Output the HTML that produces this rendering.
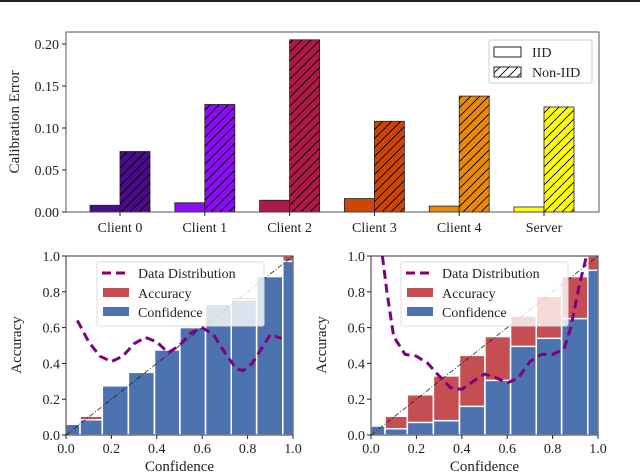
<!DOCTYPE html>
<html><head><meta charset="utf-8"><style>
body{margin:0;background:#fff}
svg{display:block;font-family:"Liberation Serif",serif}
</style></head><body>
<svg id="s" width="640" height="473" xmlns="http://www.w3.org/2000/svg">
<defs>
<pattern id="hatch" patternUnits="userSpaceOnUse" width="9" height="9">
<path d="M-2,2 L2,-2 M0,9 L9,0 M7,11 L11,7" stroke="#000" stroke-width="0.9"/>
</pattern>
</defs>
<rect x="0" y="0" width="640" height="2" fill="#222"/>
</svg>
<script>
const clients=["Client 0","Client 1","Client 2","Client 3","Client 4","Server"];
const iidVals=[0.008,0.011,0.014,0.016,0.007,0.006];
const nonIidVals=[0.072,0.128,0.205,0.108,0.138,0.125];
const clientColors=["#4b0c8c","#8a0cf2","#ad1a45","#cc4704","#e8890a","#ffff0a"];
const topTicks=["0.00","0.05","0.10","0.15","0.20"];
const binEdges=[0,0.062,0.16,0.275,0.39,0.502,0.615,0.728,0.84,0.955,1];
const leftConf=[0.06,0.085,0.275,0.35,0.475,0.6,0.73,0.755,0.885,0.97];
const leftAcc=[0.06,0.105,0.275,0.35,0.475,0.6,0.73,0.77,0.885,1.0];
const rightConf=[0.05,0.035,0.07,0.08,0.16,0.305,0.495,0.54,0.65,0.92];
const rightAcc=[0.05,0.105,0.225,0.33,0.445,0.55,0.665,0.775,0.885,1.0];
const leftDistX=[0.05,0.1,0.15,0.2,0.25,0.3,0.35,0.4,0.45,0.5,0.55,0.6,0.65,0.7,0.75,0.78,0.82,0.87,0.9,0.95];
const leftDistY=[0.64,0.52,0.44,0.41,0.44,0.51,0.545,0.52,0.46,0.5,0.57,0.6,0.56,0.46,0.37,0.36,0.4,0.5,0.56,0.54];
const rightDistX=[0.05,0.07,0.1,0.15,0.2,0.25,0.3,0.35,0.4,0.45,0.5,0.55,0.6,0.65,0.7,0.75,0.8,0.85,0.88,0.92,0.95];
const rightDistY=[1.0,0.8,0.55,0.45,0.44,0.4,0.33,0.265,0.255,0.3,0.34,0.32,0.29,0.32,0.41,0.45,0.45,0.48,0.6,0.85,1.0];
const unitTicks=["0.0","0.2","0.4","0.6","0.8","1.0"];

const S=document.getElementById('s');const NS="http://www.w3.org/2000/svg";
function mk(t,a,p){const e=document.createElementNS(NS,t);for(const k in a)e.setAttribute(k,a[k]);(p||S).appendChild(e);return e;}
function txt(x,y,s,size,anchor,p){const e=mk('text',{x:x,y:y,'font-size':size,'text-anchor':anchor||'middle',fill:'#222'},p);e.textContent=s;return e;}

// ---- top chart
const T={x0:66,x1:599,y0:212,y1:32};
const ty=v=>T.y0-v/0.05*42;
const gx=i=>120+i*84.8;
const g1=mk('g',{});
topTicks.forEach(t=>{const y=ty(parseFloat(t));mk('line',{x1:T.x0-4,x2:T.x0,y1:y,y2:y,stroke:'#222'},g1);const l=txt(T.x0-7,y+5,t,14,'end',g1);});
clients.forEach((c,i)=>{
 const cx=gx(i),w=30;
 const b1=mk('rect',{x:cx-w,y:ty(iidVals[i]),width:w,height:T.y0-ty(iidVals[i]),fill:clientColors[i],stroke:'#222','stroke-width':0.8},g1);
 
 const b2=mk('rect',{x:cx,y:ty(nonIidVals[i]),width:w,height:T.y0-ty(nonIidVals[i]),fill:clientColors[i],stroke:'#222','stroke-width':0.8},g1);
 
 mk('rect',{x:cx,y:ty(nonIidVals[i]),width:w,height:T.y0-ty(nonIidVals[i]),fill:'url(#hatch)'},g1);
 mk('line',{x1:cx,x2:cx,y1:T.y0,y2:T.y0+4,stroke:'#222'},g1);
 const l=txt(cx,T.y0+20,c,14,'middle',g1);
});
mk('rect',{x:T.x0,y:T.y1,width:T.x1-T.x0,height:T.y0-T.y1,fill:'none',stroke:'#444','stroke-width':0.9},g1);
const yl=txt(0,0,'Calibration Error',15,'middle',g1);yl.setAttribute('transform','translate(19,122) rotate(-90)');

const lg=mk('g',{},g1);
mk('rect',{x:489,y:40,width:103,height:43,fill:'#fff',stroke:'#ccc',rx:2},lg);
mk('rect',{x:494,y:47,width:27,height:10,fill:'#fff',stroke:'#222'},lg);
mk('rect',{x:494,y:67,width:27,height:10,fill:'url(#hatch)',stroke:'#222'},lg);
txt(532,57,'IID',14,'start',lg);txt(532,77,'Non-IID',14,'start',lg);

// ---- reliability diagrams
function rel(X0,conf,acc,dx,dy,name,legX){
 const X1=X0+227,Y0=435,Y1=256;
 const sx=v=>X0+v*(X1-X0),sy=v=>Y0-v*(Y0-Y1);
 const g=mk('g',{});
 const cp='c'+name;const c=mk('clipPath',{id:cp},g);mk('rect',{x:X0,y:Y1,width:X1-X0,height:Y0-Y1},c);
 const pg=mk('g',{'clip-path':'url(#'+cp+')'},g);
 conf.forEach((v,i)=>{
  const a=binEdges[i],b=binEdges[i+1];
  const r=mk('rect',{x:sx(a),y:sy(acc[i]),width:sx(b)-sx(a),height:Y0-sy(acc[i]),fill:'#c44e52',stroke:'#fff','stroke-width':1.5},pg);
  
  const q=mk('rect',{x:sx(a),y:sy(v),width:sx(b)-sx(a),height:Y0-sy(v),fill:'#4c72b0',stroke:'#fff','stroke-width':1.5},pg);
  
 });
 mk('line',{x1:sx(0),y1:sy(0),x2:sx(1),y2:sy(1),stroke:'#222','stroke-width':0.8,'stroke-dasharray':'5,2,1,2'},pg);
 const d=dx.map((x,i)=>(i?'L':'M')+sx(x).toFixed(1)+','+sy(dy[i]).toFixed(1)).join(' ');
 const p=mk('path',{d:d,fill:'none',stroke:'#800080','stroke-width':3,'stroke-dasharray':'9,5','stroke-linejoin':'round'},pg);
 
 mk('rect',{x:X0,y:Y1,width:X1-X0,height:Y0-Y1,fill:'none',stroke:'#333','stroke-width':1},g);
 unitTicks.forEach(t=>{const v=parseFloat(t);
  mk('line',{x1:sx(v),x2:sx(v),y1:Y0,y2:Y0+4,stroke:'#222'},g);
  const a=txt(sx(v),Y0+18,t,14,'middle',g);
  mk('line',{x1:X0-4,x2:X0,y1:sy(v),y2:sy(v),stroke:'#222'},g);
  const b=txt(X0-6,sy(v)+5,t,14,'end',g);
 });
 const xt=txt((X0+X1)/2,Y0+36,'Confidence',15,'middle',g);
 const yt=txt(0,0,'Accuracy',15,'middle',g);yt.setAttribute('transform','translate('+(X0-45)+',345) rotate(-90)');
 
 const L=mk('g',{},g);
 mk('rect',{x:legX,y:262,width:167,height:64,fill:'#fff','fill-opacity':0.8,stroke:'#ddd',rx:2},L);
 mk('line',{x1:legX+5,x2:legX+33,y1:273,y2:273,stroke:'#800080','stroke-width':3,'stroke-dasharray':'9,5'},L);
 mk('rect',{x:legX+6,y:288,width:26,height:9,fill:'#c44e52'},L);
 mk('rect',{x:legX+6,y:307,width:26,height:9,fill:'#4c72b0'},L);
 txt(legX+41,278,'Data Distribution',14,'start',L);
 txt(legX+41,298,'Accuracy',14,'start',L);
 txt(legX+41,317,'Confidence',14,'start',L);
}
rel(66,leftConf,leftAcc,leftDistX,leftDistY,'reliability-iid',97);
rel(371,rightConf,rightAcc,rightDistX,rightDistY,'reliability-noniid',401);
</script>
</body></html>
